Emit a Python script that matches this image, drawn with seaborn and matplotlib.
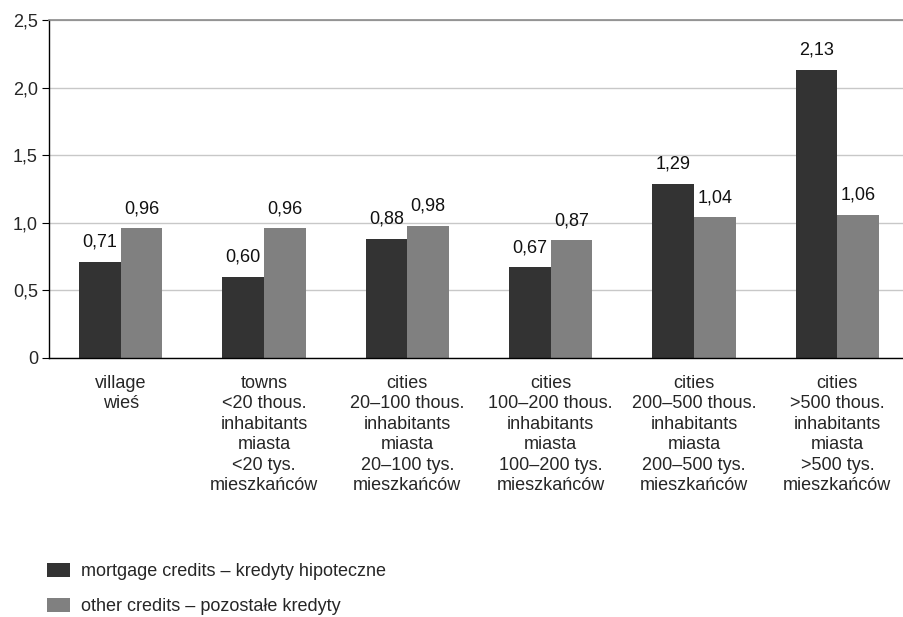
import matplotlib
matplotlib.use("Agg")
import matplotlib.pyplot as plt
from matplotlib.patches import Patch
import numpy as np
import pandas as pd
import seaborn as sns

categories = [
    "village\nwieś",
    "towns\n<20 thous.\ninhabitants\nmiasta\n<20 tys.\nmieszkańców",
    "cities\n20–100 thous.\ninhabitants\nmiasta\n20–100 tys.\nmieszkańców",
    "cities\n100–200 thous.\ninhabitants\nmiasta\n100–200 tys.\nmieszkańców",
    "cities\n200–500 thous.\ninhabitants\nmiasta\n200–500 tys.\nmieszkańców",
    "cities\n>500 thous.\ninhabitants\nmiasta\n>500 tys.\nmieszkańców",
]
mortgage = [0.71, 0.60, 0.88, 0.67, 1.29, 2.13]
other = [0.96, 0.96, 0.98, 0.87, 1.04, 1.06]
series_names = ["mortgage credits – kredyty hipoteczne",
                "other credits – pozostałe kredyty"]
y_ticks = [0, 0.5, 1.0, 1.5, 2.0, 2.5]
y_tick_labels = ["0", "0,5", "1,0", "1,5", "2,0", "2,5"]

colors = ["#333333", "#808080"]

sns.set_theme(style="white")
plt.rcParams["font.family"] = ["Liberation Sans", "DejaVu Sans"]
FS = 13

df = pd.DataFrame({
    "category": categories * 2,
    "value": mortgage + other,
    "series": [series_names[0]] * len(categories) + [series_names[1]] * len(categories),
})

fig = plt.figure(figsize=(9.04, 6.17), dpi=100)
ax = fig.add_axes([49 / 904, 1 - 358 / 617, 860 / 904, (358 - 20) / 617])

sns.barplot(data=df, x="category", y="value", hue="series", palette=colors,
            order=categories, hue_order=series_names, width=0.58, gap=0,
            saturation=1, linewidth=0, legend=False, ax=ax)

for cont in ax.containers:
    ax.bar_label(cont, fmt=lambda v: f"{v:.2f}".replace(".", ","),
                 padding=8, fontsize=FS, color="#111111")

ax.set_ylim(0, 2.5)
ax.set_xlim(-0.5, len(categories) - 0.5)
ax.set_yticks(y_ticks)
ax.set_yticklabels(y_tick_labels, fontsize=FS)
ax.set_xticks(range(len(categories)))
ax.set_xticklabels(categories, fontsize=FS, linespacing=1.27)
ax.set_xticks(np.arange(-0.5, len(categories) + 0.5, 1.0), minor=True)
ax.tick_params(axis="x", which="major", length=0, pad=12)
ax.tick_params(axis="x", which="minor", length=5, width=0.8, color="black", direction="out")
ax.tick_params(axis="y", length=5, width=0.8, color="black", direction="out", left=True, pad=3)
ax.set_xlabel("")
ax.set_ylabel("")

ax.yaxis.grid(True, color="#c8c8c8", linewidth=1.0)
ax.set_axisbelow(True)
for side in ["left", "bottom"]:
    ax.spines[side].set_color("black")
    ax.spines[side].set_linewidth(1.0)
ax.spines["top"].set_color("#8a8a8a")
ax.spines["top"].set_linewidth(1.2)
ax.spines["right"].set_visible(False)

handles = [Patch(facecolor=c, edgecolor="none") for c in colors]
fig.legend(handles, series_names, loc="upper left",
           bbox_to_anchor=(47 / 904, 1 - 563 / 617), frameon=False,
           fontsize=FS, handlelength=1.3, handleheight=0.85,
           handletextpad=0.6, labelspacing=0.95, borderpad=0, borderaxespad=0)

fig.savefig("out.png", dpi=100)
